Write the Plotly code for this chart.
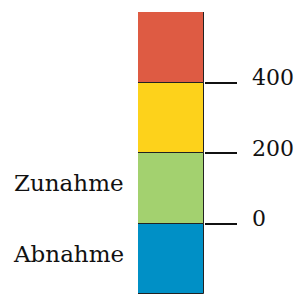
import plotly.graph_objects as go

# data
bounds = [-200, 0, 200, 400, 600]
colors = ["#0090C6", "#A3D16F", "#FDD21B", "#DE5B43"]
tick_vals = [0, 200, 400]
tick_labels = ["0", "200", "400"]
side_vals = [-100, 100]
side_labels = ["Abnahme", "Zunahme"]

FONT_NUM = dict(family="DejaVu Serif", size=22, color="#111")
FONT_TXT = dict(family="DejaVu Serif", size=23, color="#111")

fig = go.Figure()
for i, c in enumerate(colors):
    fig.add_trace(go.Bar(
        x=["k"], y=[bounds[i + 1] - bounds[i]], base=[bounds[i]],
        marker=dict(color=c, line=dict(color="#222", width=1)),
        width=1, showlegend=False, hoverinfo="skip"))

fig.add_trace(go.Scatter(x=["k"], y=[0], yaxis="y2", mode="markers",
                         marker=dict(opacity=0), showlegend=False, hoverinfo="skip"))

annotations = []
for v, t in zip(tick_vals, tick_labels):
    annotations.append(dict(xref="paper", yref="y", x=1, y=v, text=t, showarrow=False,
                            xanchor="left", yanchor="middle", xshift=46, yshift=5,
                            font=FONT_NUM))
for v, t in zip(side_vals, side_labels):
    annotations.append(dict(xref="paper", yref="y", x=0, y=v, text=t, showarrow=False,
                            xanchor="right", yanchor="middle", xshift=-12, yshift=5,
                            font=FONT_TXT))

# page body adds an 8px offset, so the figure is 8px smaller
fig.update_layout(
    width=297, height=290,
    margin=dict(l=130, r=101, t=4, b=4),
    paper_bgcolor="white", plot_bgcolor="white",
    barmode="overlay", bargap=0,
    xaxis=dict(visible=False, range=[-0.5, 0.5], automargin=False),
    yaxis=dict(range=[bounds[0], bounds[-1]], showticklabels=False,
               showgrid=False, zeroline=False, showline=False, ticks="", automargin=False),
    yaxis2=dict(range=[bounds[0], bounds[-1]], overlaying="y", side="right",
                tickvals=tick_vals, showticklabels=False, showgrid=False, zeroline=False,
                showline=False, ticks="outside", ticklen=32, tickwidth=2, tickcolor="#111",
                automargin=False),
    annotations=annotations,
)
fig.write_html("out.html")
